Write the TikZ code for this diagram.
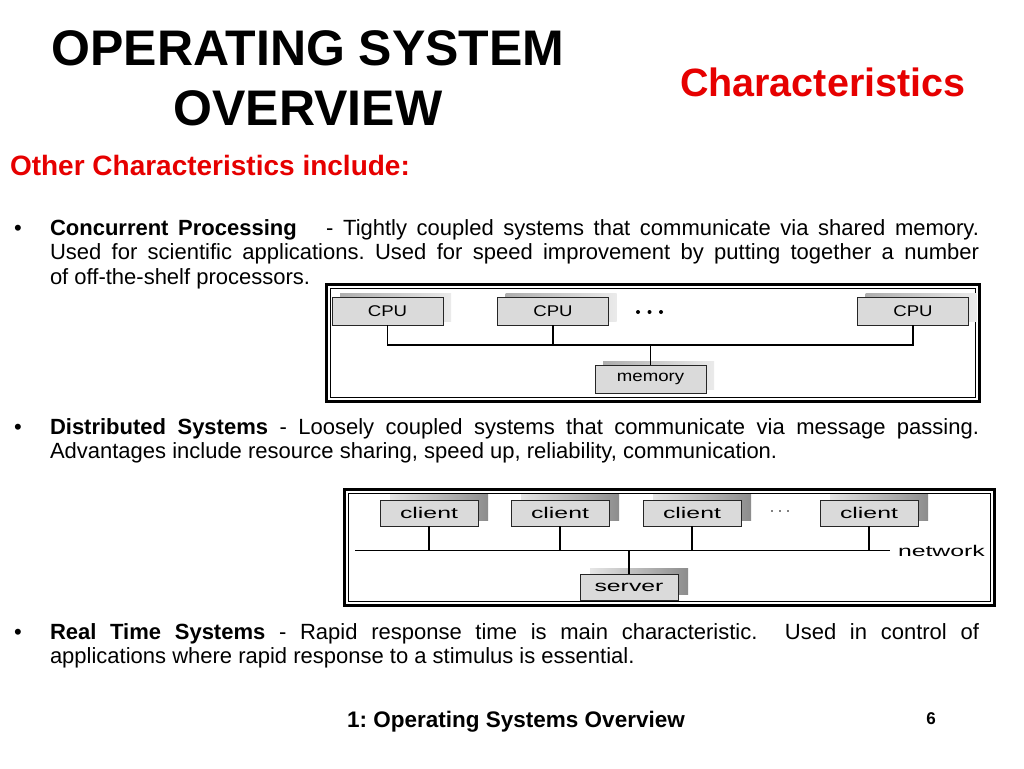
\documentclass[tikz,border=0pt]{standalone}
\usepackage{fontspec}
\setmainfont{Liberation Sans}
\usepackage{graphicx}
\usetikzlibrary{shadows}
\definecolor{slidered}{RGB}{230,0,0}
\definecolor{boxfill}{RGB}{218,218,218}
\frenchspacing
\begin{document}
\frenchspacing
\begin{tikzpicture}[x=1pt,y=-1pt,
  txt/.style={inner sep=0pt, outer sep=0pt},
  para/.style={txt, anchor=base west, font=\fontsize{22}{24.5}\selectfont},
  bulletmark/.style={txt, anchor=base west, font=\fontsize{22}{24.5}\selectfont},
  cpubox/.style={draw=black!85, fill=boxfill, line width=0.9pt, inner sep=0pt,
    minimum width=111pt, minimum height=28pt, font=\fontsize{15.5}{17}\selectfont,
    general shadow={left color=black!32, right color=black!8, shadow xshift=8pt, shadow yshift=4pt}},
  clibox/.style={draw=black!85, fill=boxfill, line width=0.9pt, inner sep=0pt,
    minimum width=98pt, minimum height=26pt, font=\fontsize{15.5}{17}\selectfont,
    general shadow={left color=black!10, right color=black!45, shadow xshift=10pt, shadow yshift=6pt}},
  wire/.style={draw=black, line width=1.6pt},
  outerframe/.style={draw=black, line width=3pt},
  innerframe/.style={draw=black, line width=1.1pt}
]
\useasboundingbox (0,0) rectangle (1024,768);
\fill[white] (0,0) rectangle (1024,768);

% titles
\node[txt, anchor=base, font=\fontsize{50}{59}\bfseries] (t1) at (308,66) {OPERATING SYSTEM};
\node[txt, anchor=base, font=\fontsize{50}{59}\bfseries] (t2) at (308,125) {OVERVIEW};
\node[txt, anchor=base west, text=slidered, font=\fontsize{39.5}{45}\bfseries] (chr) at (680,96) {Characteristics};
\node[txt, anchor=base west, text=slidered, font=\fontsize{28}{32}\bfseries] (oth) at (10,175) {Other Characteristics include:};

% paragraph 1
\node[bulletmark] (b1) at (14,235) {•};
\node[para] (p1) at (50,235) {\parbox[t]{929pt}{\frenchspacing\textbf{Concurrent Processing}\hspace{0.9em} - Tightly coupled systems that communicate via shared memory.\linebreak Used for scientific applications. Used for speed improvement by putting together a number\linebreak of off-the-shelf processors.}};

% paragraph 2
\node[bulletmark] (b2) at (14,434) {•};
\node[para] (p2) at (50,434) {\parbox[t]{929pt}{\frenchspacing\textbf{Distributed Systems} - Loosely coupled systems that communicate via message passing.\linebreak Advantages include resource sharing, speed up, reliability, communication.}};

% paragraph 3
\node[bulletmark] (b3) at (14,639) {•};
\node[para] (p3) at (50,639) {\parbox[t]{929pt}{\frenchspacing\textbf{Real Time Systems} - Rapid response time is main characteristic.\ \ Used in control of\linebreak applications where rapid response to a stimulus is essential.}};

% footer
\node[txt, anchor=base, font=\fontsize{22.5}{26}\bfseries] (foot) at (516,727) {1: Operating Systems Overview};
\node[txt, anchor=base, font=\fontsize{17}{20}\bfseries] (pg) at (931,724) {6};

% ---------- diagram 1 ----------
\draw[outerframe] (326.5,284.5) rectangle (979.5,401.5);
\draw[innerframe] (330.5,288.5) rectangle (975.5,397.5);
\node[cpubox] (cpu1) at (387.5,311) {\scalebox{1.2}[1]{CPU}};
\node[cpubox] (cpu2) at (553,311) {\scalebox{1.2}[1]{CPU}};
\node[cpubox] (cpu3) at (913,311) {\scalebox{1.2}[1]{CPU}};
\node[cpubox] (mem) at (650.5,379) {\scalebox{1.2}[1]{memory}};
\coordinate (busA) at (651,345);
\draw[wire] (cpu1.south) |- (busA) -| (cpu3.south);
\draw[wire] (cpu2.south) -- (cpu2.south |- busA);
\draw[wire] (mem.north) -- (mem.north |- busA);
\fill (638,312) circle (2);
\fill (649.5,312) circle (2);
\fill (661,312) circle (2);

% ---------- diagram 2 ----------
\draw[outerframe] (344.5,489.5) rectangle (994.5,605.5);
\draw[innerframe] (348.5,493.5) rectangle (990.5,601.5);
\node[clibox] (c1) at (429,513) {\scalebox{1.6}[1]{client}};
\node[clibox] (c2) at (560,513) {\scalebox{1.6}[1]{client}};
\node[clibox] (c3) at (692,513) {\scalebox{1.6}[1]{client}};
\node[clibox] (c4) at (869,513) {\scalebox{1.6}[1]{client}};
\node[clibox] (srv) at (629,587) {\scalebox{1.6}[1]{server}};
\coordinate (netL) at (355,550.5);
\coordinate (netR) at (890,550.5);
\draw[wire] (netL) -- (netR);
\node[txt, anchor=west, font=\fontsize{15.5}{17}\selectfont] (net) at (898,550.5) {\scalebox{1.6}[1]{network}};
\draw[wire] (c1.south) -- (c1.south |- netL);
\draw[wire] (c2.south) -- (c2.south |- netL);
\draw[wire] (c3.south) -- (c3.south |- netL);
\draw[wire] (c4.south) -- (c4.south |- netL);
\draw[wire] (srv.north) -- (srv.north |- netL);
\fill (772,511) circle (0.9);
\fill (780,511) circle (0.9);
\fill (788,511) circle (0.9);
\end{tikzpicture}
\end{document}
